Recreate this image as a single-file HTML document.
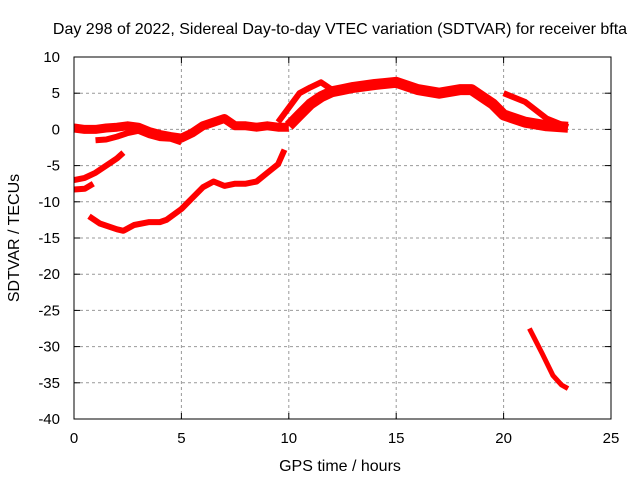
<!DOCTYPE html>
<html><head><meta charset="utf-8"><style>
body{margin:0;background:#fff}
svg text{font-family:"Liberation Sans",sans-serif;font-size:15px;fill:#000}
</style></head><body>
<svg id="c" width="640" height="480" xmlns="http://www.w3.org/2000/svg">
<rect width="640" height="480" fill="#fff"/>
<text x="340" y="34" text-anchor="middle" style="font-size:16px">Day 298 of 2022, Sidereal Day-to-day VTEC variation (SDTVAR) for receiver bfta</text>
<text x="340" y="471" text-anchor="middle" style="font-size:16px">GPS time / hours</text>
<text transform="translate(19,238) rotate(-90)" text-anchor="middle" style="font-size:16px">SDTVAR / TECUs</text>
<g id="grid"></g><g id="data"></g>
<rect x="74" y="57" width="537" height="362" fill="none" stroke="#000"/>
</svg>
<script>
const xTicks=[0,5,10,15,20,25];
const yTicks=[10,5,0,-5,-10,-15,-20,-25,-30,-35,-40];
const sA_t=[0,0.5,1,1.5,2,2.5,3,3.5,4,4.5,5,5.5,6,6.5,7,7.5,8,8.5,9,9.5,10];
const sA_v=[0.2,0,0,0.2,0.3,0.5,0.3,-0.3,-0.7,-1,-1.2,-0.5,0.5,1,1.5,0.5,0.5,0.3,0.5,0.3,0.3];
const sB_t=[1,1.5,2,2.5,3,3.5,4,4.5,5];
const sB_v=[-1.5,-1.4,-1,-0.5,-0.2,-0.8,-1.2,-1.3,-1.8];
const sC_t=[0,0.5,1,1.5,2,2.3];
const sC_v=[-7,-6.7,-6,-5,-4,-3.2];
const sD_t=[0,0.5,0.9];
const sD_v=[-8.3,-8.2,-7.5];
const sE_t=[0.7,1.2,2,2.3,2.8,3.5,4,4.3,5,5.5,6,6.5,7,7.5,8,8.5,9,9.5,9.8];
const sE_v=[-12,-13,-13.8,-14,-13.2,-12.8,-12.8,-12.5,-11,-9.5,-8,-7.2,-7.8,-7.5,-7.5,-7.2,-6,-4.8,-2.8];
const sF_t=[10,10.5,11,11.5,12,12.5,13,14,15,16,17,18,18.5,19,19.5,20,21,22,23];
const sF_v=[0.5,2,3.5,4.5,5.2,5.5,5.8,6.2,6.5,5.5,5,5.5,5.5,4.5,3.5,2,1,0.5,0.3];
const sG_t=[9.5,10,10.5,11,11.5,12];
const sG_v=[1,3,5,5.8,6.5,5.5];
const sH_t=[20,21,22,23];
const sH_v=[5,3.8,1.5,0.3];
const sI_t=[21.2,21.8,22.3,22.7,23];
const sI_v=[-27.5,-31,-34,-35.3,-35.8];
const X=t=>74+t*537/25, Y=v=>57+(10-v)*362/50;
const NS='http://www.w3.org/2000/svg',svg=document.getElementById('c');
const grid=document.getElementById('grid'),data=document.getElementById('data');
function mk(tag,at,p){const e=document.createElementNS(NS,tag);for(const k in at)e.setAttribute(k,at[k]);(p||svg).appendChild(e);return e;}
xTicks.forEach(t=>{const x=X(t);
 if(t>0&&t<25){const g=mk('line',{x1:x,x2:x,y1:57,y2:419,stroke:'#999','stroke-dasharray':'3,3'},grid);
 
 }
 mk('line',{x1:x,x2:x,y1:419,y2:413,stroke:'#000'},grid);mk('line',{x1:x,x2:x,y1:57,y2:63,stroke:'#000'},grid);
 const l=mk('text',{x:x,y:443,'text-anchor':'middle'});l.textContent=t;
 
 });
yTicks.forEach(v=>{const y=Y(v);
 if(v<10&&v>-40){const g=mk('line',{x1:74,x2:611,y1:y,y2:y,stroke:'#999','stroke-dasharray':'3,3'},grid);
 
 }
 mk('line',{x1:74,x2:80,y1:y,y2:y,stroke:'#000'},grid);mk('line',{x1:605,x2:611,y1:y,y2:y,stroke:'#000'},grid);
 const l=mk('text',{x:60,y:y+5,'text-anchor':'end'});l.textContent=v;
 
 });
[[sA_t,sA_v,9],[sB_t,sB_v,6],[sC_t,sC_v,6],[sD_t,sD_v,6],[sE_t,sE_v,6],[sF_t,sF_v,11],[sG_t,sG_v,6],[sH_t,sH_v,6],[sI_t,sI_v,5]].forEach(([ts,vs,w])=>{
 const pts=ts.map((t,i)=>X(t).toFixed(1)+','+Y(vs[i]).toFixed(1)).join(' ');
 const p=mk('polyline',{points:pts,fill:'none',stroke:'#f00','stroke-width':w,'stroke-linejoin':'round'},data);
 
 });
</script>
</body></html>
